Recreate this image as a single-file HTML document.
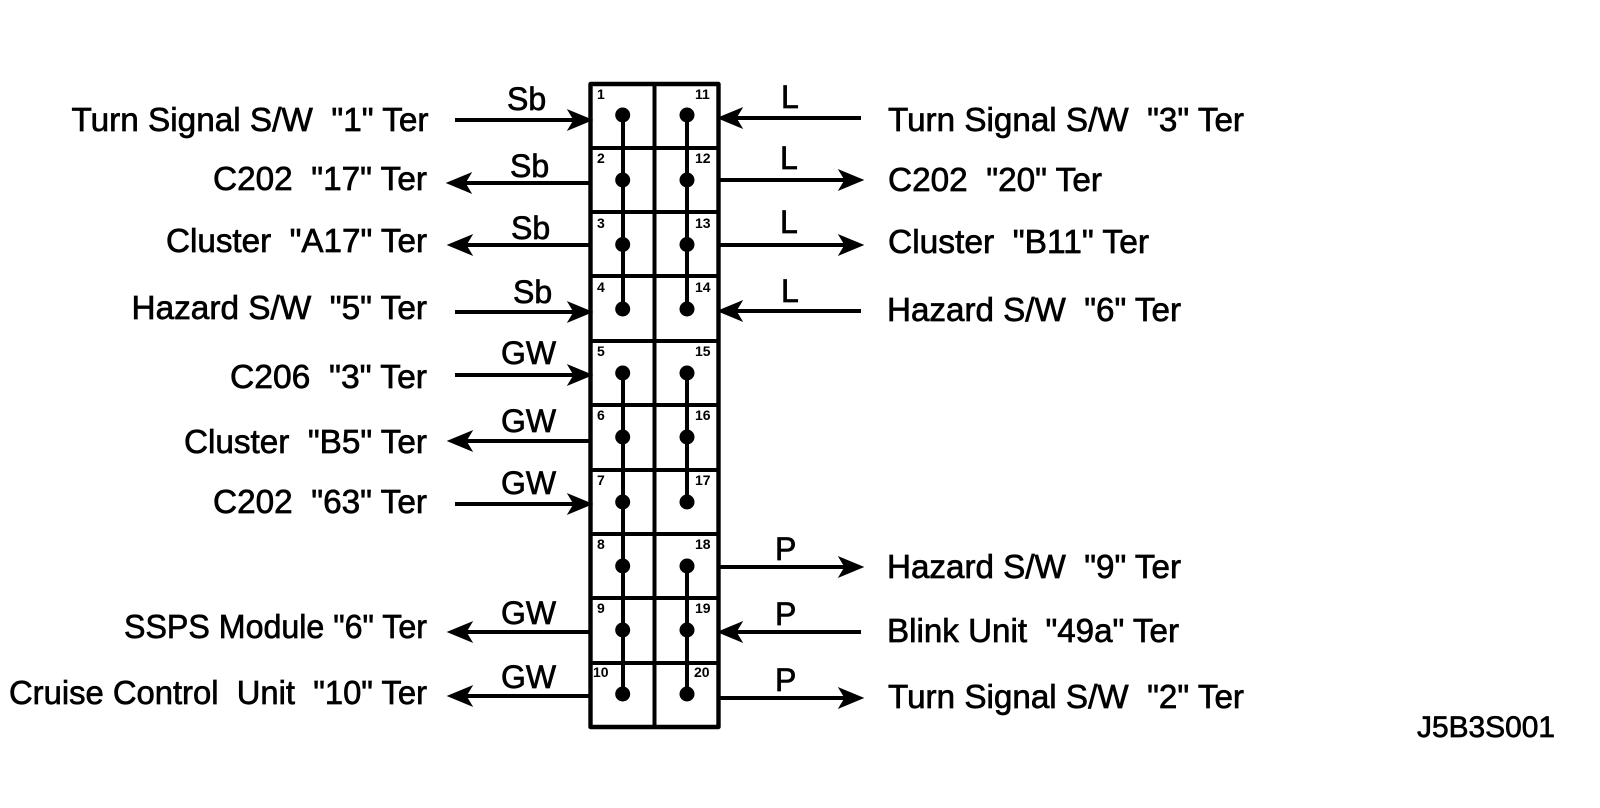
<!DOCTYPE html>
<html><head><meta charset="utf-8"><style>
html,body{margin:0;padding:0;background:#fff}
svg{display:block}
text{font-family:"Liberation Sans",sans-serif;fill:#000;stroke:#000;stroke-width:.7}
.l{font-size:33.5px;text-anchor:start}
.w{font-size:32px}
.n{font-size:14px;font-weight:bold;stroke:none}
line{stroke:#000;stroke-width:4;shape-rendering:crispEdges}
</style></head><body>
<svg width="1600" height="808" viewBox="0 0 1600 808" xmlns="http://www.w3.org/2000/svg">
<defs><path id="r" d="M0 0L-24-10L-18 0L-24 10Z" fill="#000" stroke="#000" stroke-width="1"/><path id="f" d="M0 0L24-10L18 0L24 10Z" fill="#000" stroke="#000" stroke-width="1"/></defs>
<rect width="1600" height="808" fill="#fff"/>
<rect x="590.5" y="84" width="128" height="643" fill="none" stroke="#000" stroke-width="4.4" stroke-linejoin="round"/>
<line x1="654.5" y1="84" x2="654.5" y2="727"/>
<line x1="590" y1="148" x2="719" y2="148"/><line x1="590" y1="212" x2="719" y2="212"/><line x1="590" y1="276" x2="719" y2="276"/><line x1="590" y1="341" x2="719" y2="341"/><line x1="590" y1="405" x2="719" y2="405"/><line x1="590" y1="470" x2="719" y2="470"/><line x1="590" y1="534" x2="719" y2="534"/><line x1="590" y1="598" x2="719" y2="598"/><line x1="590" y1="663" x2="719" y2="663"/>
<!-- buses -->
<line x1="623" y1="115" x2="623" y2="309"/><line x1="623" y1="373" x2="623" y2="694"/>
<line x1="687" y1="115" x2="687" y2="309"/><line x1="687" y1="373" x2="687" y2="502"/><line x1="687" y1="566" x2="687" y2="694"/>
<g fill="#000">
<circle cx="622.7" cy="115" r="7.5"/><circle cx="622.7" cy="180" r="7.5"/><circle cx="622.7" cy="244.5" r="7.5"/><circle cx="622.7" cy="309" r="7.5"/><circle cx="622.7" cy="373" r="7.5"/><circle cx="622.7" cy="437" r="7.5"/><circle cx="622.7" cy="502" r="7.5"/><circle cx="622.7" cy="566" r="7.5"/><circle cx="622.7" cy="630" r="7.5"/><circle cx="622.7" cy="694" r="7.5"/>
<circle cx="687" cy="115" r="7.5"/><circle cx="687" cy="180" r="7.5"/><circle cx="687" cy="244.5" r="7.5"/><circle cx="687" cy="309" r="7.5"/><circle cx="687" cy="373" r="7.5"/><circle cx="687" cy="437" r="7.5"/><circle cx="687" cy="502" r="7.5"/><circle cx="687" cy="566" r="7.5"/><circle cx="687" cy="630" r="7.5"/><circle cx="687" cy="694" r="7.5"/>
</g>
<!-- left arrows -->
<line x1="455" y1="120" x2="575" y2="120"/><use href="#r" x="592" y="120"/>
<line x1="465" y1="183" x2="590" y2="183"/><use href="#f" x="447" y="183"/>
<line x1="465" y1="245" x2="590" y2="245"/><use href="#f" x="448" y="245"/>
<line x1="455" y1="312" x2="575" y2="312"/><use href="#r" x="592" y="312"/>
<line x1="455" y1="375" x2="575" y2="375"/><use href="#r" x="592" y="375"/>
<line x1="465" y1="441" x2="590" y2="441"/><use href="#f" x="448" y="441"/>
<line x1="455" y1="504" x2="575" y2="504"/><use href="#r" x="592" y="504"/>
<line x1="465" y1="632" x2="590" y2="632"/><use href="#f" x="448" y="632"/>
<line x1="465" y1="696" x2="590" y2="696"/><use href="#f" x="448" y="696"/>
<!-- right arrows -->
<line x1="733" y1="118" x2="861" y2="118"/><use href="#f" x="718" y="118"/>
<line x1="719" y1="180" x2="848" y2="180"/><use href="#r" x="863" y="180"/>
<line x1="719" y1="245" x2="848" y2="245"/><use href="#r" x="863" y="245"/>
<line x1="733" y1="311" x2="861" y2="311"/><use href="#f" x="718" y="311"/>
<line x1="719" y1="567" x2="848" y2="567"/><use href="#r" x="863" y="567"/>
<line x1="733" y1="632" x2="861" y2="632"/><use href="#f" x="718" y="632"/>
<line x1="719" y1="698" x2="848" y2="698"/><use href="#r" x="863" y="698"/>
<!-- wire labels -->
<g class="w">
<text class="w" x="507" y="110">Sb</text><text class="w" x="510" y="177">Sb</text><text class="w" x="511" y="239">Sb</text><text class="w" x="513" y="303">Sb</text>
<text class="w" x="501" y="364">GW</text><text class="w" x="501" y="432">GW</text><text class="w" x="501" y="494">GW</text><text class="w" x="501" y="624">GW</text><text class="w" x="501" y="688">GW</text>
<text class="w" x="781" y="108">L</text><text class="w" x="780" y="169">L</text><text class="w" x="780" y="233">L</text><text class="w" x="781" y="302">L</text>
<text class="w" x="775" y="560">P</text><text class="w" x="775" y="625">P</text><text class="w" x="775" y="691">P</text>
</g>
<!-- left labels -->
<text class="l" x="71.5" y="131" textLength="357" lengthAdjust="spacingAndGlyphs" xml:space="preserve">Turn Signal S/W  "1" Ter</text>
<text class="l" x="213" y="190" textLength="214" lengthAdjust="spacingAndGlyphs" xml:space="preserve">C202  "17" Ter</text>
<text class="l" x="166" y="252" textLength="261" lengthAdjust="spacingAndGlyphs" xml:space="preserve">Cluster  "A17" Ter</text>
<text class="l" x="131.5" y="319" textLength="295.5" lengthAdjust="spacingAndGlyphs" xml:space="preserve">Hazard S/W  "5" Ter</text>
<text class="l" x="230" y="388" textLength="197" lengthAdjust="spacingAndGlyphs" xml:space="preserve">C206  "3" Ter</text>
<text class="l" x="184" y="453" textLength="243" lengthAdjust="spacingAndGlyphs" xml:space="preserve">Cluster  "B5" Ter</text>
<text class="l" x="213" y="513" textLength="214" lengthAdjust="spacingAndGlyphs" xml:space="preserve">C202  "63" Ter</text>
<text class="l" x="124" y="638" textLength="303" lengthAdjust="spacingAndGlyphs" xml:space="preserve">SSPS Module "6" Ter</text>
<text class="l" x="9" y="704" textLength="418" lengthAdjust="spacingAndGlyphs" xml:space="preserve">Cruise Control  Unit  "10" Ter</text>
<!-- right labels -->
<text class="l" x="888" y="131" textLength="356" lengthAdjust="spacingAndGlyphs" xml:space="preserve">Turn Signal S/W  "3" Ter</text>
<text class="l" x="888" y="191" textLength="214" lengthAdjust="spacingAndGlyphs" xml:space="preserve">C202  "20" Ter</text>
<text class="l" x="888" y="253" textLength="261" lengthAdjust="spacingAndGlyphs" xml:space="preserve">Cluster  "B11" Ter</text>
<text class="l" x="887" y="321" textLength="294" lengthAdjust="spacingAndGlyphs" xml:space="preserve">Hazard S/W  "6" Ter</text>
<text class="l" x="887" y="578" textLength="294" lengthAdjust="spacingAndGlyphs" xml:space="preserve">Hazard S/W  "9" Ter</text>
<text class="l" x="887" y="642" textLength="292" lengthAdjust="spacingAndGlyphs" xml:space="preserve">Blink Unit  "49a" Ter</text>
<text class="l" x="888" y="708" textLength="356" lengthAdjust="spacingAndGlyphs" xml:space="preserve">Turn Signal S/W  "2" Ter</text>
<text x="1417" y="737" font-size="29.5" textLength="138" lengthAdjust="spacingAndGlyphs">J5B3S001</text>
<!-- pin numbers -->
<text class="n" x="597" y="99">1</text><text class="n" x="597" y="163">2</text><text class="n" x="597" y="228">3</text><text class="n" x="597" y="292">4</text><text class="n" x="597" y="356">5</text><text class="n" x="597" y="420">6</text><text class="n" x="597" y="485">7</text><text class="n" x="597" y="549">8</text><text class="n" x="597" y="613">9</text><text class="n" x="593" y="677">10</text>
<text class="n" x="695" y="99">11</text><text class="n" x="695" y="163">12</text><text class="n" x="695" y="228">13</text><text class="n" x="695" y="292">14</text><text class="n" x="695" y="356">15</text><text class="n" x="695" y="420">16</text><text class="n" x="695" y="485">17</text><text class="n" x="695" y="549">18</text><text class="n" x="695" y="613">19</text><text class="n" x="694" y="677">20</text>
</svg>
</body></html>
